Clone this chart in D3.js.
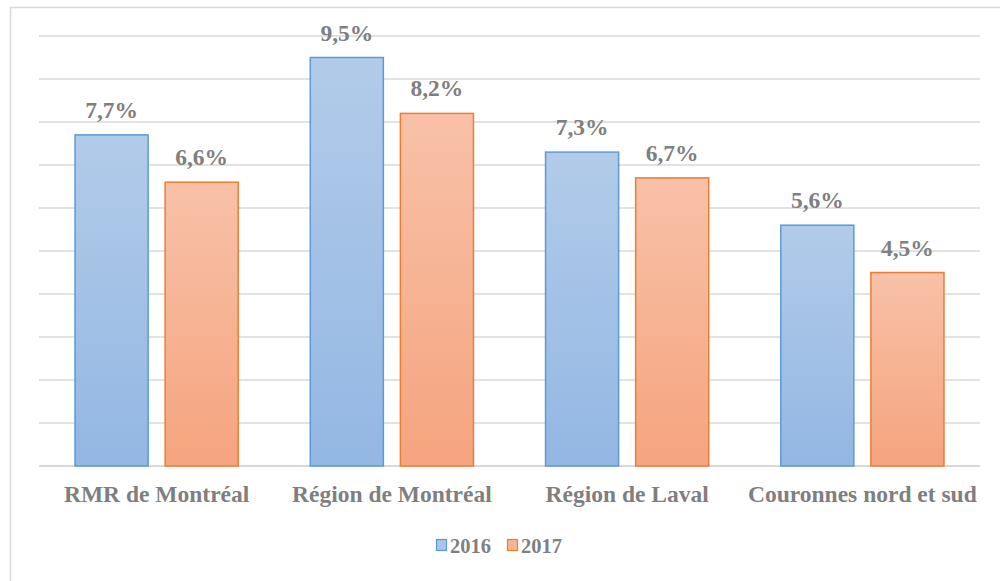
<!DOCTYPE html>
<meta charset="utf-8">
<title>Taux 2016-2017</title>
<script src="https://d3js.org/d3.v7.min.js"></script>
<style>
body { margin: 0; background: #fff; }
</style>
<div id="chart"></div>
<script>
// data
const categories = ["RMR de Montréal", "Région de Montréal", "Région de Laval", "Couronnes nord et sud"];
const years = ["2016", "2017"];
const values2016 = [7.7, 9.5, 7.3, 5.6];
const values2017 = [6.6, 8.2, 6.7, 4.5];
const gridTicks = [0, 1, 2, 3, 4, 5, 6, 7, 8, 9, 10];

const width = 1000, height = 581;
const plot = {left: 39, right: 980, top: 36, bottom: 466};
const textColor = "#7f7f7f";

const svg = d3.select("#chart").append("svg")
    .attr("width", width)
    .attr("height", height);

// serif bold text, set as attributes on each text
function styleText(sel, size) {
    sel.attr("font-family", "Liberation Serif")
        .attr("font-weight", "bold")
        .attr("font-size", size)
        .attr("fill", textColor);
}

// outer frame (only left & top visible in the picture)
svg.append("rect")
    .attr("x", 10.5).attr("y", 7.5)
    .attr("width", 1000).attr("height", 600)
    .attr("fill", "none")
    .attr("stroke", "#d9d9d9")
    .attr("stroke-width", 1.5);

const x0 = d3.scaleBand().domain(categories).range([plot.left, plot.right]).padding(0);
const x1 = d3.scaleBand().domain(years).range([0, x0.bandwidth()])
    .paddingInner(0.189).paddingOuter(0.4);
const y = d3.scaleLinear().domain([0, 10]).range([plot.bottom, plot.top]);

// gridlines
svg.append("g")
    .selectAll("line")
    .data(gridTicks)
    .join("line")
    .attr("x1", plot.left).attr("x2", plot.right)
    .attr("y1", d => y(d)).attr("y2", d => y(d))
    .attr("stroke", "#d9d9d9")
    .attr("stroke-width", d => d === 0 ? 2 : 1.5);

// category labels
svg.append("g").selectAll("text")
    .data(categories)
    .join("text")
    .attr("x", d => x0(d) + x0.bandwidth() / 2)
    .attr("y", 502)
    .attr("text-anchor", "middle")
    .text(d => d)
    .call(styleText, 23.5);

// legend
const stroke = {"2016": "#5b9bd5", "2017": "#ed7d31"};
const legendFill = {"2016": "#a9c6e8", "2017": "#f7b596"};
const legend = svg.append("g").attr("transform", "translate(436,539)");
const legendX = {"2016": 0, "2017": 71};
years.forEach(yr => {
    const g = legend.append("g").attr("transform", `translate(${legendX[yr]},0)`);
    g.append("rect")
        .attr("x", 0.5).attr("y", 0.5)
        .attr("width", 10).attr("height", 11)
        .attr("fill", legendFill[yr])
        .attr("stroke", stroke[yr])
        .attr("stroke-width", 1.2);
    g.append("text")
        .attr("x", 14).attr("y", 13.5)
        .text(yr)
        .call(styleText, 20.5);
});

// gradients for the bars
const defs = svg.append("defs");
const grads = [
    {id: "g2016", top: "#b2cbe9", bottom: "#93b7e3"},
    {id: "g2017", top: "#f8c1a8", bottom: "#f5a47e"}
];
grads.forEach(g => {
    const lg = defs.append("linearGradient").attr("id", g.id)
        .attr("x1", 0).attr("y1", 0).attr("x2", 0).attr("y2", 1);
    lg.append("stop").attr("offset", "0%").attr("stop-color", g.top);
    lg.append("stop").attr("offset", "100%").attr("stop-color", g.bottom);
});
const fill = {"2016": "url(#g2016)", "2017": "url(#g2017)"};

const rows = categories.map((c, i) => ({cat: c, vals: [
    {year: "2016", v: values2016[i]},
    {year: "2017", v: values2017[i]}
]}));

const groups = svg.append("g").selectAll("g")
    .data(rows)
    .join("g")
    .attr("transform", d => `translate(${x0(d.cat)},0)`);

groups.selectAll("rect")
    .data(d => d.vals)
    .join("rect")
    .attr("x", d => x1(d.year))
    .attr("y", d => y(d.v))
    .attr("width", x1.bandwidth())
    .attr("height", d => y(0) - y(d.v))
    .attr("fill", d => fill[d.year])
    .attr("stroke", d => stroke[d.year])
    .attr("stroke-width", 1.5);

groups.selectAll("text.lbl")
    .data(d => d.vals)
    .join("text")
    .attr("class", "lbl")
    .attr("x", d => x1(d.year) + x1.bandwidth() / 2)
    .attr("y", d => y(d.v) - 17)
    .attr("text-anchor", "middle")
    .text(d => d.v.toFixed(1).replace(".", ",") + "%")
    .call(styleText, 23.5);
</script>
